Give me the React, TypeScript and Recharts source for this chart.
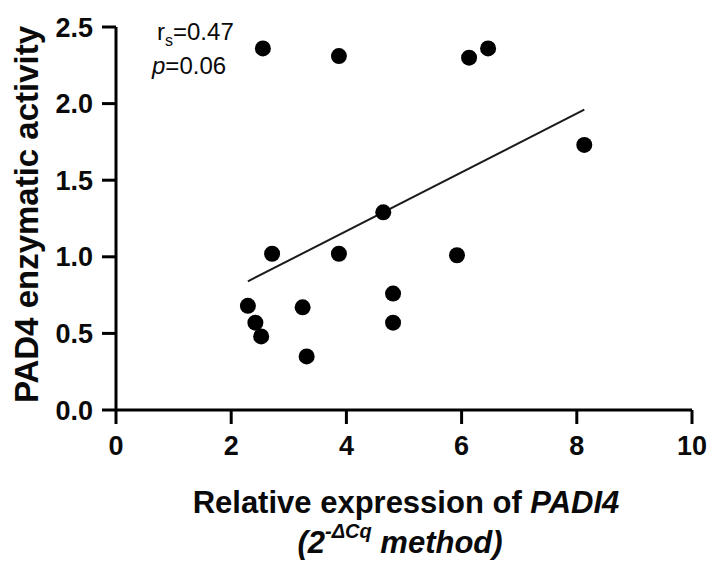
import React from "react";
import {
  ScatterChart,
  Scatter,
  XAxis,
  YAxis,
  ReferenceLine,
  Customized,
} from "recharts";

// PADI4 relative expression (x) vs PAD4 enzymatic activity (y)
const expression = [2.55, 3.87, 6.13, 6.46, 8.13, 4.64, 5.92, 2.71, 3.87, 2.29, 2.42, 2.52, 3.24, 3.31, 4.81, 4.81];
const activity = [2.36, 2.31, 2.3, 2.36, 1.73, 1.29, 1.01, 1.02, 1.02, 0.68, 0.57, 0.48, 0.67, 0.35, 0.76, 0.57];

// fitted line end points
const fitX = [2.29, 8.13];
const fitY = [0.84, 1.96];

const xTicks = [0, 2, 4, 6, 8, 10];
const yTicks = [0, 0.5, 1.0, 1.5, 2.0, 2.5];

const points = expression.map((x, i) => ({ x, y: activity[i] }));

const FONT = "'Liberation Sans', Arial, Helvetica, sans-serif";
const INK = "#0a0a0a";

const Dot = (props: any) => <circle cx={props.cx} cy={props.cy} r={8} fill="#000" />;

const YLabel = (props: any) => {
  const { x, y, height } = props.viewBox;
  return (
    <text
      transform={`translate(${x + 26}, ${y + height / 2 - 4}) rotate(-90)`}
      textAnchor="middle"
      dominantBaseline="central"
      fontFamily={FONT}
      fontWeight="bold"
      fontSize={33}
      fill={INK}
    >
      PAD4 enzymatic activity
    </text>
  );
};

const XLabel = (props: any) => {
  const { x, y, width } = props.viewBox;
  const cx = x + width / 2;
  return (
    <g fontFamily={FONT} fontWeight="bold" fill={INK}>
      <text x={cx + 2} y={y + 103} textAnchor="middle" fontSize={31}>
        Relative expression of <tspan fontStyle="italic">PADI4</tspan>
      </text>
      <text x={cx - 4} y={y + 143} textAnchor="middle" fontSize={31} fontStyle="italic">
        (2
        <tspan dy={-15} fontSize={20}>-ΔCq</tspan>
        <tspan dy={15}> method)</tspan>
      </text>
    </g>
  );
};

const Stats = () => (
  <g fontFamily={FONT} fill={INK} fontSize={24}>
    <text x={157} y={40}>
      r<tspan dy={6} fontSize={16}>s</tspan>
      <tspan dy={-6}>=0.47</tspan>
    </text>
    <text x={152} y={74}>
      <tspan fontStyle="italic">p</tspan>=0.06
    </text>
  </g>
);

const App: React.FC = () => (
  <div style={{ position: "absolute", left: 0, top: 0, width: 711, height: 563, background: "#fff" }}>
    <ScatterChart width={711} height={563} margin={{ top: 27, right: 19, bottom: 0, left: 0 }}>
      <XAxis
        type="number"
        dataKey="x"
        domain={[0, 10]}
        ticks={xTicks}
        height={153}
        tickSize={14}
        tickMargin={12}
        axisLine={{ stroke: "#000", strokeWidth: 3 }}
        tickLine={{ stroke: "#000", strokeWidth: 3 }}
        tick={{ fill: INK, fontSize: 27, fontWeight: "bold", fontFamily: FONT }}
        label={{ content: XLabel }}
      />
      <YAxis
        type="number"
        dataKey="y"
        domain={[0, 2.5]}
        ticks={yTicks}
        width={116}
        tickSize={14}
        tickMargin={9}
        tickFormatter={(v: number) => v.toFixed(1)}
        axisLine={{ stroke: "#000", strokeWidth: 3 }}
        tickLine={{ stroke: "#000", strokeWidth: 3 }}
        tick={{ fill: INK, fontSize: 27, fontWeight: "bold", fontFamily: FONT }}
        label={{ content: YLabel }}
      />
      <ReferenceLine
        segment={[
          { x: fitX[0], y: fitY[0] },
          { x: fitX[1], y: fitY[1] },
        ]}
        stroke="#1a1a1a"
        strokeWidth={2}
      />
      <Scatter data={points} shape={Dot} isAnimationActive={false} />
      <Customized component={Stats} />
    </ScatterChart>
  </div>
);

export default App;
